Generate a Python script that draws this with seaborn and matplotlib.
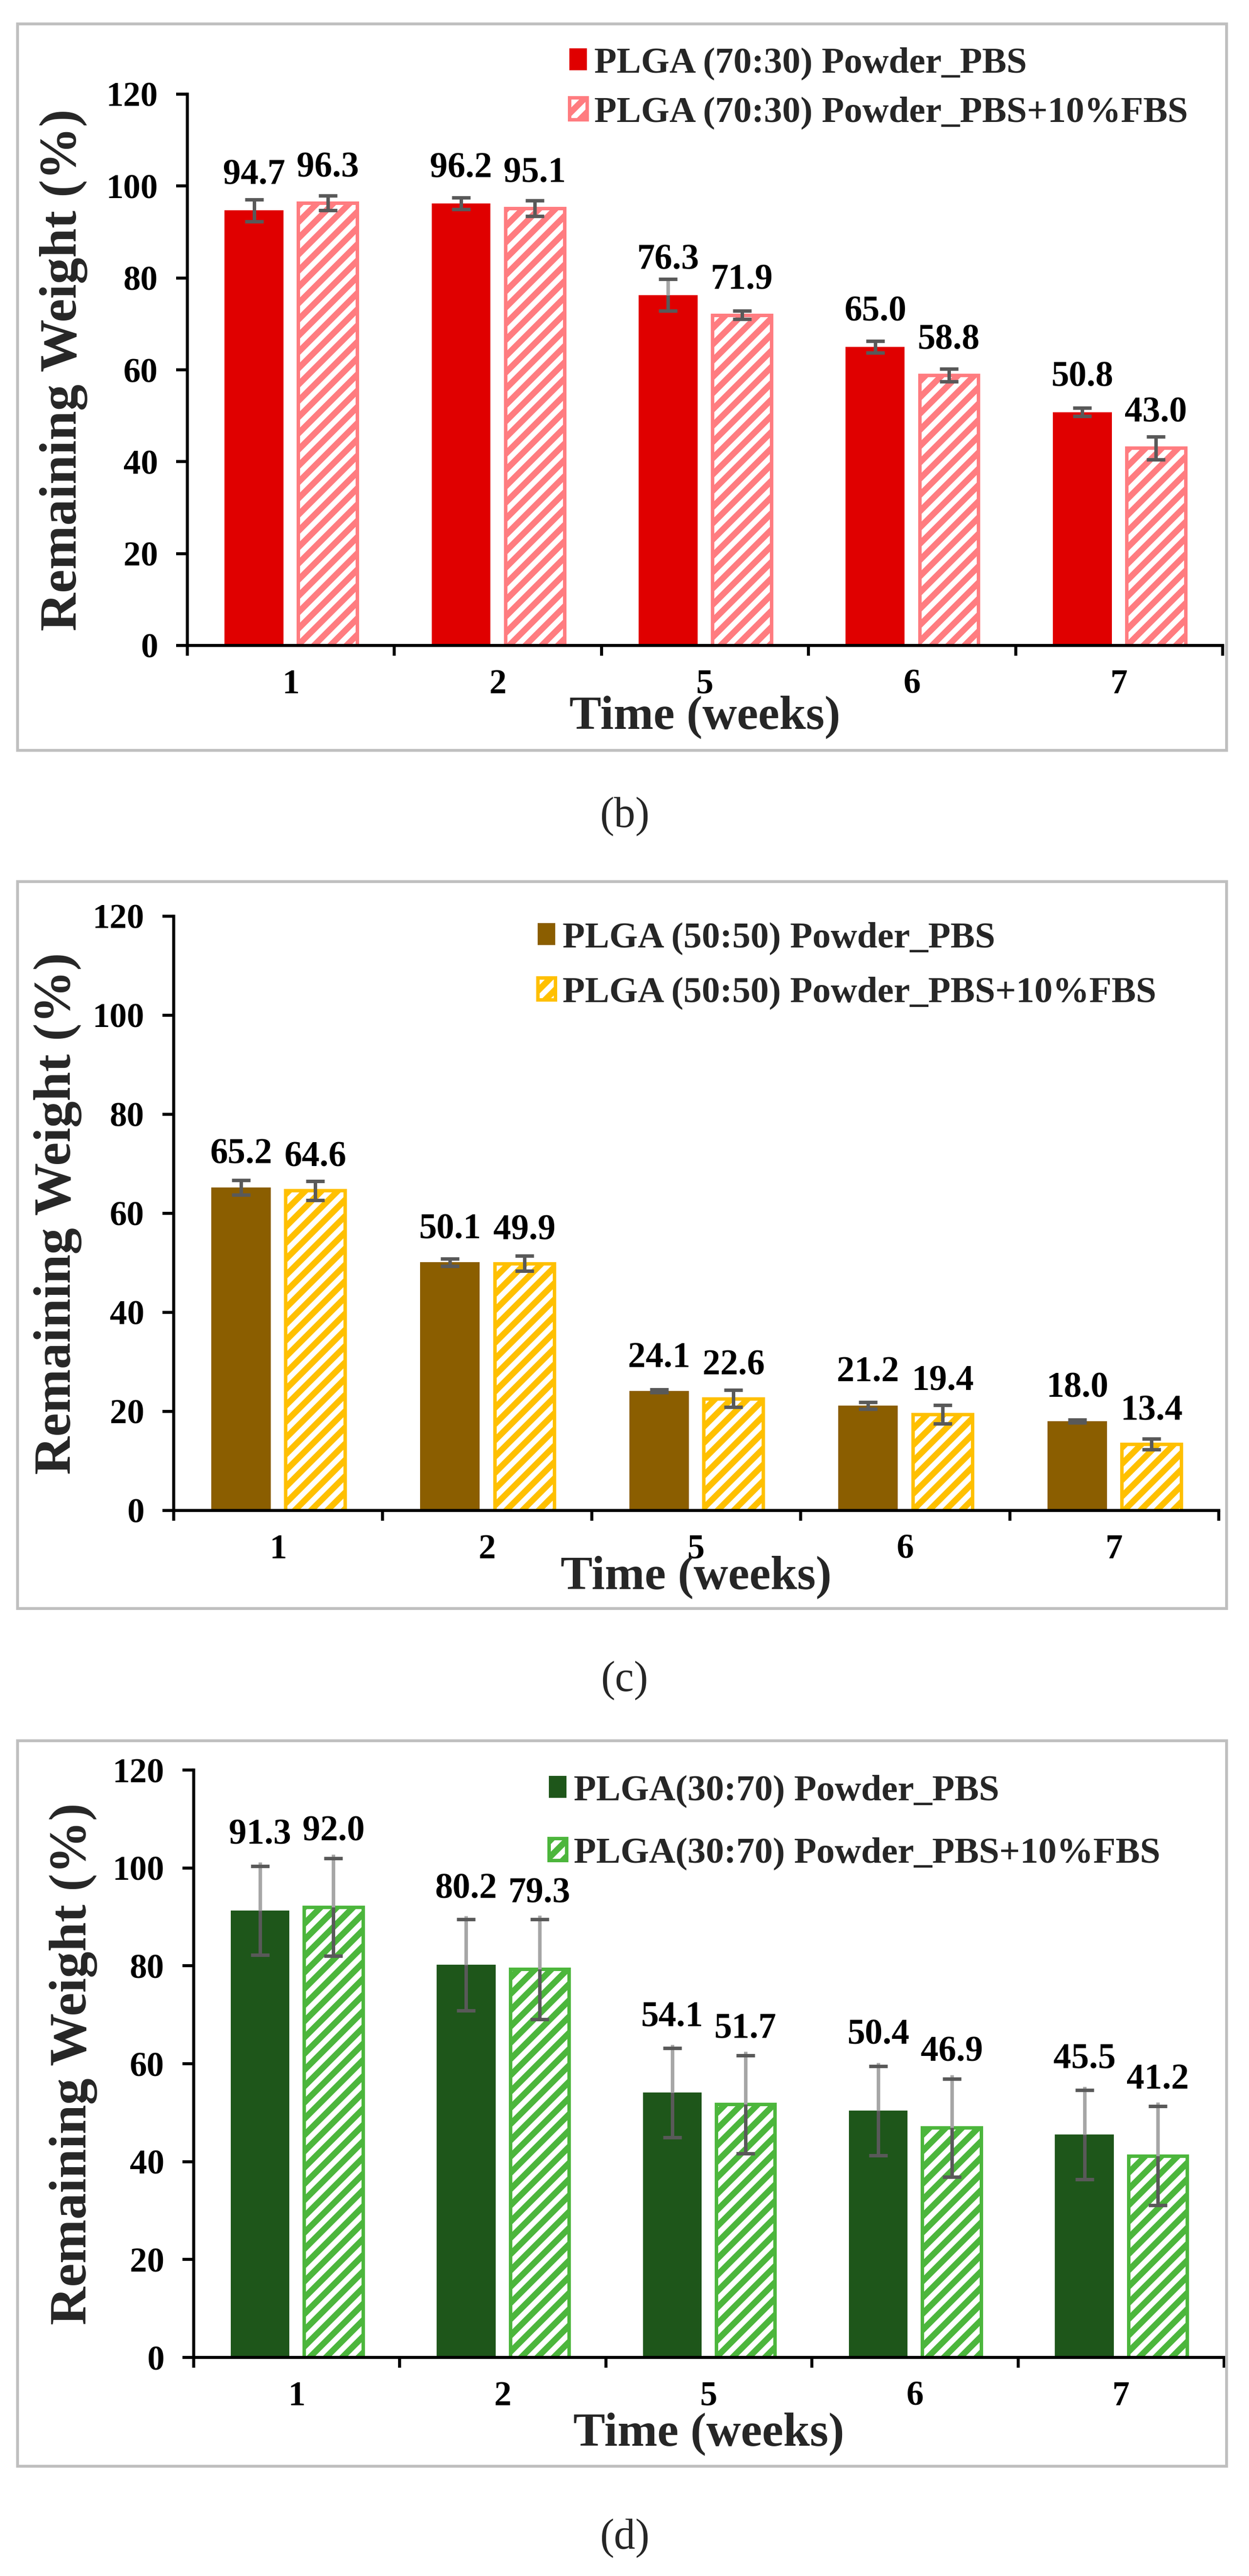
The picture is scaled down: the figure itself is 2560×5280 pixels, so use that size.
"""
Remaining weight of PLGA powders after degradation in PBS and PBS+10%FBS.
Three stacked panels (b), (c), (d), one per PLGA ratio.
"""

import matplotlib
matplotlib.use("Agg")
from matplotlib import pyplot as plt
from matplotlib.patches import Rectangle
import pandas as pd
import seaborn as sns

weeks = ['1', '2', '5', '6', '7']

# (b) PLGA 70:30
b_labels = ['PLGA (70:30) Powder_PBS', 'PLGA (70:30) Powder_PBS+10%FBS']
b_pbs = [94.7, 96.2, 76.3, 65.0, 50.8]
b_fbs = [96.3, 95.1, 71.9, 58.8, 43.0]
b_pbs_sd = [2.4, 1.3, 3.4, 1.3, 0.9]
b_fbs_sd = [1.6, 1.7, 0.9, 1.4, 2.5]

# (c) PLGA 50:50
c_labels = ['PLGA (50:50) Powder_PBS', 'PLGA (50:50) Powder_PBS+10%FBS']
c_pbs = [65.2, 50.1, 24.1, 21.2, 18.0]
c_fbs = [64.6, 49.9, 22.6, 19.4, 13.4]
c_pbs_sd = [1.5, 0.7, 0.3, 0.7, 0.3]
c_fbs_sd = [1.9, 1.5, 1.7, 1.85, 1.1]

# (d) PLGA 30:70
d_labels = ['PLGA(30:70) Powder_PBS', 'PLGA(30:70) Powder_PBS+10%FBS']
d_pbs = [91.3, 80.2, 54.1, 50.4, 45.5]
d_fbs = [92.0, 79.3, 51.7, 46.9, 41.2]
d_pbs_sd = [9.1, 9.3, 9.1, 9.1, 9.1]
d_fbs_sd = [10.0, 10.2, 10.0, 10.0, 10.1]

W, H, DPI = 2560, 5280, 300
DARK_ERR = '#595959'
LIGHT_ERR = '#A6A6A6'

sns.set_style('white')
plt.rcParams['font.family'] = ['Liberation Serif', 'DejaVu Serif']
plt.rcParams['font.weight'] = 'bold'
plt.rcParams['hatch.linewidth'] = 3.0

fig = plt.figure(figsize=(W / DPI, H / DPI), dpi=DPI)
fig.patch.set_facecolor('white')


def draw_panel(labels, pbs, fbs, pbs_sd, fbs_sd, solid, hatch_col, lay):
    left, top, right, bottom = lay['axes']
    ax = fig.add_axes([left / W, 1 - bottom / H, (right - left) / W, (bottom - top) / H])

    df = pd.DataFrame({
        'week': weeks * 2,
        'value': pbs + fbs,
        'group': [labels[0]] * len(weeks) + [labels[1]] * len(weeks),
    })
    sns.barplot(data=df, x='week', y='value', hue='group', order=weeks,
                hue_order=labels, palette=[solid, hatch_col], saturation=1,
                width=0.712, gap=0.2, errorbar=None, legend=False, ax=ax)
    bars = list(ax.containers)

    for p in bars[0]:
        p.set_edgecolor(solid)
        p.set_linewidth(0)
    for p in bars[1]:
        p.set_facecolor('white')
        p.set_edgecolor(hatch_col)
        p.set_hatch('///')
        p.set_linewidth(1.7)

    # error bars (SD), the upper half lighter on some bars
    for k, (cont, sds) in enumerate(zip(bars, [pbs_sd, fbs_sd])):
        xs = [p.get_x() + p.get_width() / 2 for p in cont]
        ys = [p.get_height() for p in cont]
        eb = ax.errorbar(xs, ys, yerr=sds, fmt='none', ecolor=DARK_ERR,
                         elinewidth=1.7, capsize=4.5, capthick=1.7, zorder=3)
        for cap in eb[1]:
            cap.set_zorder(5)
        for i in lay['light'][k]:
            ax.vlines(xs[i], ys[i], ys[i] + sds[i] * 1.08, color=LIGHT_ERR, lw=1.7, zorder=4)

    for cont in bars:
        ax.bar_label(cont, fmt='%.1f', padding=lay['pad'], fontsize=17.5,
                     fontweight='bold', color='black')

    ax.set_ylim(0, 120)
    ax.set_yticks(range(0, 121, 20))
    ax.set_xlim(-0.5, len(weeks) - 0.5)
    ax.set_xticks([i - 0.5 for i in range(len(weeks) + 1)], minor=True)

    for side in ['top', 'right']:
        ax.spines[side].set_visible(False)
    for side in ['left', 'bottom']:
        ax.spines[side].set_color('black')
        ax.spines[side].set_linewidth(1.5)

    ax.tick_params(axis='y', left=True, direction='out', length=5.5, width=1.5,
                   pad=9, labelsize=17, colors='black')
    ax.tick_params(axis='x', which='major', bottom=True, length=0, pad=11.5,
                   labelsize=17, colors='black')
    ax.tick_params(axis='x', which='minor', bottom=True, direction='out',
                   length=5, width=1.5, color='black')

    ax.set_xlabel('Time (weeks)', fontsize=23.5, fontweight='bold')
    ax.xaxis.set_label_coords(0.5, lay['xlab'])
    ax.xaxis.label.set_va('center')
    ax.set_ylabel('Remaining Weight (%)', fontsize=26, fontweight='bold')
    ax.yaxis.set_label_coords(lay['ylab'], 0.5)
    ax.yaxis.label.set_va('center')

    lx, ly = lay['legend']
    ax.legend(bars, labels, loc='upper left', bbox_to_anchor=(lx / W, 1 - ly / H),
              bbox_transform=fig.transFigure, frameon=False, borderpad=0,
              borderaxespad=0, handlelength=0.48, handleheight=0.55,
              handletextpad=0.2, labelspacing=lay['ls'],
              prop={'weight': 'bold', 'size': 18})

    ftop, fbot = lay['frame']
    fig.add_artist(Rectangle((36 / W, 1 - fbot / H), (2514 - 36) / W, (fbot - ftop) / H,
                             transform=fig.transFigure, fill=False,
                             edgecolor='#BFBFBF', linewidth=1.4))
    fig.text(0.5, 1 - lay['cap_y'] / H, lay['cap'], ha='center', va='center',
             fontsize=21, fontweight='normal')
    return ax


draw_panel(b_labels, b_pbs, b_fbs, b_pbs_sd, b_fbs_sd, '#E00000', '#FF7C80',
           {'axes': (384, 193, 2506, 1323), 'frame': (49, 1538),
            'legend': (1167, 96), 'ls': 0.44, 'cap': '(b)', 'cap_y': 1674,
            'xlab': (1323 - 1470) / 1130, 'ylab': (130 - 384) / 2122,
            'pad': 9, 'light': [[2], []]})

draw_panel(c_labels, c_pbs, c_fbs, c_pbs_sd, c_fbs_sd, '#8B5E00', '#FFC000',
           {'axes': (356, 1878, 2498, 3096), 'frame': (1807, 3297),
            'legend': (1102, 1889), 'ls': 0.59, 'cap': '(c)', 'cap_y': 3445,
            'xlab': (3096 - 3233) / 1218, 'ylab': (118 - 356) / 2142,
            'pad': 8, 'light': [[], []]})

draw_panel(d_labels, d_pbs, d_fbs, d_pbs_sd, d_fbs_sd, '#1E561A', '#4CB63C',
           {'axes': (397, 3628, 2509, 4832), 'frame': (3568, 5055),
            'legend': (1125, 3637), 'ls': 0.8, 'cap': '(d)', 'cap_y': 5203,
            'xlab': (4832 - 4989) / 1204, 'ylab': (150 - 397) / 2112,
            'pad': 29, 'light': [[0, 1, 2, 3, 4], [0, 1, 2, 3, 4]]})

fig.savefig('out.png', dpi=DPI)
